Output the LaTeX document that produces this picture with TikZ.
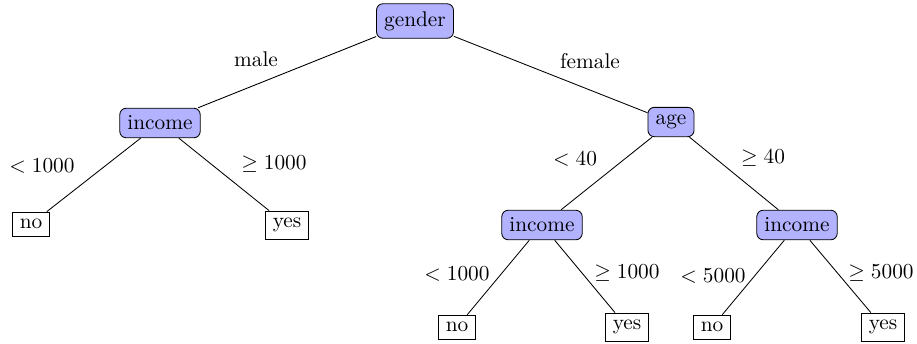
\documentclass[tikz,border=0pt]{standalone}
\usepackage{amssymb}
\begin{document}
\begin{tikzpicture}[x=0.4695pt,y=-0.4695pt,
  decision/.style={draw, fill=blue!30, rounded corners=3pt, inner sep=3.6pt},
  leaf/.style={draw, rectangle, inner sep=3.3pt},
  lbl/.style={inner sep=0pt}]
\useasboundingbox (0,0) rectangle (917,343);
\node[decision] (g) at (415,21) {gender};
\node[decision] (i1) at (160,123) {income};
\node[decision] (a) at (671,122) {age};
\node[decision] (i2) at (542,225) {income};
\node[decision] (i3) at (797,225) {income};
\node[leaf] (n1) at (31,224) {no};
\node[leaf] (y1) at (287,225) {yes};
\node[leaf] (n2) at (457,327) {no};
\node[leaf] (y2) at (627,327) {yes};
\node[leaf] (n3) at (712,327) {no};
\node[leaf] (y3) at (883,327) {yes};
\draw (g) -- (i1);
\draw (g) -- (a);
\draw (i1) -- (n1);
\draw (i1) -- (y1);
\draw (a) -- (i2);
\draw (a) -- (i3);
\draw (i2) -- (n2);
\draw (i2) -- (y2);
\draw (i3) -- (n3);
\draw (i3) -- (y3);
\node[lbl] (lmale) at (256,59) {male};
\node[lbl] (lfemale) at (590,61) {female};
\node[lbl] (l1) at (42,166) {$<1000$};
\node[lbl] (l2) at (274,164) {$\geq 1000$};
\node[lbl] (l3) at (575,159) {$<40$};
\node[lbl] (l4) at (763,158) {$\geq 40$};
\node[lbl] (l5) at (457,274) {$<1000$};
\node[lbl] (l6) at (627,273) {$\geq 1000$};
\node[lbl] (l7) at (713,276) {$<5000$};
\node[lbl] (l8) at (881,273) {$\geq 5000$};
\end{tikzpicture}
\end{document}
